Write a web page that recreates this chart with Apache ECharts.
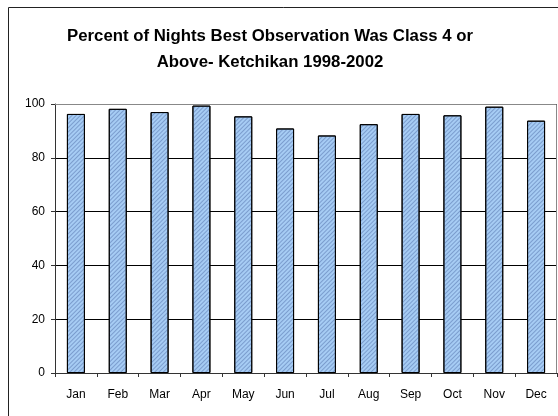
<!DOCTYPE html>
<html>
<head>
<meta charset="utf-8">
<script src="https://cdn.jsdelivr.net/npm/echarts@6/dist/echarts.min.js"></script>
<style>
  html, body { margin: 0; padding: 0; background: #fff; }
  #main { width: 558px; height: 416px; }
</style>
</head>
<body>
<div id="main"></div>
<script>
// 月份与数值
const months = ['Jan', 'Feb', 'Mar', 'Apr', 'May', 'Jun', 'Jul', 'Aug', 'Sep', 'Oct', 'Nov', 'Dec'];
const percentValues = [96.3, 98.2, 97.0, 99.4, 95.4, 90.9, 88.3, 92.5, 96.3, 95.8, 99.0, 93.8];
const yTicks = [0, 20, 40, 60, 80, 100];

var myChart = echarts.init(document.getElementById('main'));

myChart.setOption({
  animation: false,
  textStyle: { fontFamily: 'Liberation Sans, Arial, sans-serif' },
  title: {
    text: 'Percent of Nights Best Observation Was Class 4 or\nAbove- Ketchikan 1998-2002',
    left: 265,
    textAlign: 'center',
    top: 18,
    textStyle: { fontSize: 16.8, fontWeight: 'bold', color: '#000', lineHeight: 26 }
  },
  grid: { left: 55, right: 1, top: 104, bottom: 43 },
  xAxis: {
    type: 'category',
    data: months,
    axisLine: { lineStyle: { color: '#333' } },
    axisTick: { show: true, length: 4, lineStyle: { color: '#333' } },
    axisLabel: { color: '#000', fontSize: 12, margin: 16 }
  },
  yAxis: {
    type: 'value',
    min: yTicks[0],
    max: yTicks[yTicks.length - 1],
    interval: 20,
    axisLine: { show: true, lineStyle: { color: '#333' } },
    axisTick: { show: true, length: 4, lineStyle: { color: '#333' } },
    axisLabel: { color: '#000', fontSize: 12, margin: 10 },
    splitLine: { lineStyle: { color: '#000', width: 1 } }
  },
  series: [{
    type: 'bar',
    data: percentValues,
    barWidth: 18,
    itemStyle: {
      color: '#a6ccf4',
      borderColor: '#000',
      borderWidth: 1,
      decal: {
        symbol: 'rect',
        symbolSize: 1,
        dashArrayX: [1, 0],
        dashArrayY: [1, 2],
        rotation: -Math.PI / 4,
        color: 'rgba(70,100,160,0.45)'
      }
    }
  }],
  // 外边框 + 顶部和右侧的灰色框线
  graphic: [{
    type: 'rect',
    shape: { x: 8.5, y: 7.5, width: 600, height: 500 },
    style: { fill: 'none', stroke: '#222', lineWidth: 1 }
  }, {
    type: 'polyline',
    shape: { points: [[55, 104.5], [556.5, 104.5], [556.5, 373]] },
    style: { fill: 'none', stroke: '#888', lineWidth: 1 },
    z: 10
  }]
});
</script>
</body>
</html>
